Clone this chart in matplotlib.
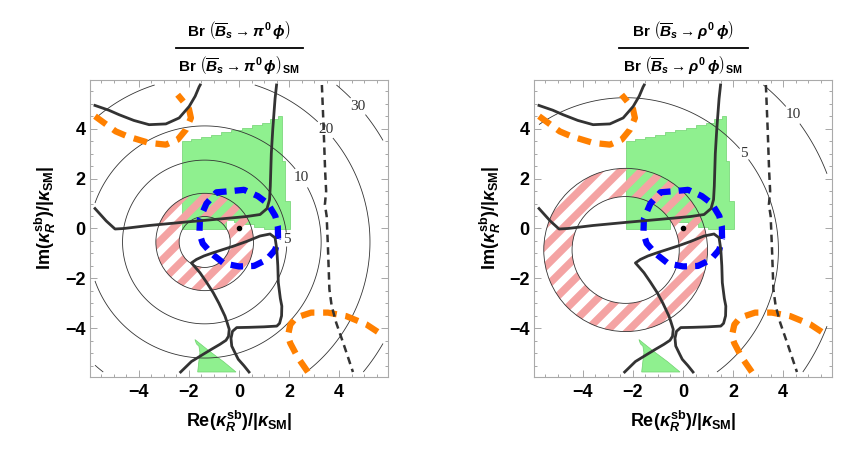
import numpy as np
import matplotlib.pyplot as plt
from matplotlib.patches import Annulus, Polygon
from matplotlib.lines import Line2D
from matplotlib.ticker import MultipleLocator

plt.rcParams['font.family'] = ['Liberation Sans', 'DejaVu Sans']
plt.rcParams['font.weight'] = 'bold'
plt.rcParams['mathtext.fontset'] = 'custom'
plt.rcParams['mathtext.rm'] = 'Liberation Sans:bold'
plt.rcParams['mathtext.it'] = 'Liberation Sans:italic:bold'
plt.rcParams['mathtext.bf'] = 'Liberation Sans:bold'

# ---- panel specific: ring (allowed region) and Br-ratio contours ----
ring_center_pi = (-1.37, -0.54)
ring_radii_pi = (1.02, 1.95)
contour_radii_pi = [3.28, 4.65, 6.6, 8.2]
contour_labels_pi = ['5', '10', '20', '30']
label_pos_pi = [(1.97, -0.44), (2.51, 2.03), (3.5, 4.0), (4.96, 5.08)]

ring_center_rho = (-2.29, -0.86)
ring_radii_rho = (2.14, 3.27)
contour_radii_rho = [6.1, 8.6]
contour_labels_rho = ['5', '10']
label_pos_rho = [(2.41, 2.96), (4.81, 4.89)]

# ---- common constraints ----
green_main = [(-2.29, -0.04), (-2.29, 3.49), (-1.9, 3.49), (-1.9, 3.58), (-1.5, 3.58),
              (-1.5, 3.67), (-1.1, 3.67), (-1.1, 3.76), (-0.7, 3.76), (-0.7, 3.85),
              (-0.3, 3.85), (-0.3, 3.95), (0.1, 3.95), (0.1, 4.04), (0.5, 4.04),
              (0.5, 4.13), (0.9, 4.13), (0.9, 4.22), (1.24, 4.22), (1.24, 4.40),
              (1.55, 4.40), (1.55, 4.49), (1.71, 4.49), (1.71, 2.7), (1.82, 2.7),
              (1.82, 1.1), (2.05, 1.1), (2.05, -0.04), (1.0, -0.04), (1.0, 0.08),
              (0.6, 0.08), (0.6, 0.17), (0.2, 0.17), (0.2, 0.26), (-0.2, 0.26),
              (-0.2, 0.33), (-0.5, 0.33), (-0.5, -0.04)]
green_low = [(-1.76, -4.45), (-1.7, -4.62), (-1.6, -4.72), (-1.56, -4.97),
             (-1.6, -5.3), (-1.65, -5.75), (-0.12, -5.75), (-0.6, -5.35),
             (-1.2, -4.9)]

curve_a_x = [-5.75, -5.2, -4.79, -4.2, -3.59, -2.92, -2.39, -1.99, -1.75, -1.59, -1.55]
curve_a_y = [4.93, 4.74, 4.56, 4.33, 4.16, 4.19, 4.43, 4.89, 5.3, 5.68, 5.75]

curve_b_x = [1.5, 1.44, 1.35, 1.29, 1.25, 1.22, 1.12, 0.84, 0.3, -0.23, -1.0,
             -2.23, -3.6, -4.6, -4.95, -5.3, -5.75]
curve_b_y = [5.75, 5.2, 4.0, 3.0, 1.7, 1.16, 0.8, 0.56, 0.48, 0.43, 0.36,
             0.25, 0.12, 0.0, -0.02, 0.3, 0.8]

curve_c_x = [-2.33, -1.9, -1.43, -1.1, -0.76, -0.52, -0.42, -0.39, -0.48, -0.56,
             -0.8, -1.03, -1.3, -1.56, -1.75, -1.9, -1.7, -1.4, -1.03, -0.23,
             0.3, 0.84, 1.24, 1.44, 1.51, 1.55, 1.57, 1.65, 1.71, 1.7, 1.62,
             1.51, 1.0, 0.4, -0.09, -0.26, -0.32, -0.29, -0.15, -0.03, 0.2, 0.4]
curve_c_y = [-5.75, -5.33, -5.04, -4.84, -4.64, -4.48, -4.32, -4.04, -3.75, -3.51,
             -3.0, -2.57, -2.15, -1.77, -1.55, -1.38, -1.24, -1.1, -0.97, -0.71,
             -0.52, -0.3, -0.22, -0.37, -0.84, -1.5, -2.17, -2.8, -3.11, -3.5, -3.8,
             -3.91, -3.94, -3.96, -3.97, -4.12, -4.4, -4.71, -5.0, -5.24, -5.5, -5.75]

dashed_x = [3.31, 3.38, 3.44, 3.48, 3.43, 3.5, 3.55, 3.61, 3.7, 3.88, 4.2, 4.55]
dashed_y = [5.75, 4.0, 2.29, 1.5, 0.96, 0.5, -0.71, -2.44, -3.1, -3.77, -4.7, -5.75]

blue_x = [1.56, 1.55, 1.45, 1.15, 0.75, 0.2, -0.3, -0.9, -1.3, -1.56, -1.58,
          -1.45, -1.1, -0.6, 0.0, 0.6, 1.1, 1.45, 1.56]
blue_y = [-0.4, 0.1, 0.5, 1.0, 1.3, 1.55, 1.5, 1.45, 1.0, 0.4, -0.2,
          -0.6, -1.0, -1.4, -1.52, -1.5, -1.25, -0.85, -0.4]

orange_a_x = [-5.75, -4.92, -4.45, -3.59, -2.92, -2.45, -2.12, -1.92, -2.0, -2.12, -2.45]
orange_a_y = [4.5, 3.89, 3.69, 3.43, 3.36, 3.56, 3.96, 4.43, 4.8, 4.96, 5.36]

orange_b_x = [2.75, 2.35, 2.05, 1.95, 2.05, 2.28, 2.88, 3.55, 4.28, 5.08, 5.55]
orange_b_y = [-5.75, -5.17, -4.6, -4.31, -3.85, -3.57, -3.37, -3.37, -3.51, -3.84, -4.15]

LIM = 5.95
DRAW = 5.75
GREEN = '#8ff08f'
PINK = '#f4a3a3'
DARK = '#333333'
STRIPE_STEP = 0.84   # horizontal stripe period of the ring hatching


def draw_panel(ax, center, ring, radii, labels, label_pos):
    # constraints
    ax.add_patch(Polygon(green_main, closed=True, facecolor=GREEN,
                         edgecolor='#6fd26f', lw=0.5, zorder=1))
    ax.add_patch(Polygon(green_low, closed=True, facecolor=GREEN,
                         edgecolor='#6fd26f', lw=0.5, zorder=1))

    # Br ratio contours
    g = np.linspace(-DRAW, DRAW, 500)
    X, Y = np.meshgrid(g, g)
    D = np.hypot(X - center[0], Y - center[1])
    cs = ax.contour(X, Y, D, levels=radii, colors=DARK, linewidths=0.6, zorder=2)
    texts = ax.clabel(cs, fmt=dict(zip(cs.levels, labels)), manual=label_pos,
                      fontsize=11, inline=True, inline_spacing=3)
    for t in texts:
        t.set_rotation(0)
        t.set_family('Liberation Serif')
        t.set_fontweight('normal')

    # hatched ring: pink diagonal stripes clipped to the annulus
    ring_patch = Annulus(center, ring[1], ring[1] - ring[0], facecolor='none',
                         edgecolor=DARK, lw=0.6, zorder=3.5)
    ax.add_patch(ring_patch)
    cx, cy = center
    span = ring[1] + 0.5
    for b in np.arange(-2 * span, 2 * span, STRIPE_STEP):
        ln, = ax.plot([cx - span, cx + span], [cy - span + b, cy + span + b],
                      color=PINK, lw=5.4, solid_capstyle='butt', zorder=3)
        ln.set_clip_path(ring_patch)

    ax.plot(blue_x, blue_y, color='#0000ff', lw=4.5, ls=(0, (2.0, 1.3)),
            dash_capstyle='butt', zorder=4)
    ax.plot(orange_a_x, orange_a_y, color='#ff8000', lw=4.5, ls=(0, (2.2, 1.4)),
            dash_capstyle='butt', zorder=4)
    ax.plot(orange_b_x, orange_b_y, color='#ff8000', lw=4.5, ls=(0, (2.2, 1.4)),
            dash_capstyle='butt', zorder=4)
    for px, py in [(curve_a_x, curve_a_y), (curve_b_x, curve_b_y), (curve_c_x, curve_c_y)]:
        ax.plot(px, py, color=DARK, lw=2.0, zorder=5)
    ax.plot(dashed_x, dashed_y, color=DARK, lw=1.8, ls=(0, (3, 2)), zorder=5)
    ax.plot([0], [0], 'o', color='k', ms=3, zorder=6)

    ax.set_xlim(-LIM, LIM)
    ax.set_ylim(-LIM, LIM)
    for a in (ax.xaxis, ax.yaxis):
        a.set_major_locator(MultipleLocator(2))
        a.set_minor_locator(MultipleLocator(0.5))
    ax.tick_params(which='both', direction='in', top=True, right=True,
                   color='#999999', width=0.6, labelsize=13)
    ax.tick_params(which='major', length=5)
    ax.tick_params(which='minor', length=2.5)
    ax.tick_params(axis='x', pad=5)
    ax.tick_params(axis='y', pad=3)
    for s in ax.spines.values():
        s.set_color('#aaaaaa')
        s.set_linewidth(0.8)


W, H = 861, 450
fig = plt.figure(figsize=(W / 100, H / 100), dpi=100)
ax1 = fig.add_axes([90 / W, 1 - 377 / H, 298 / W, 297 / H])
ax2 = fig.add_axes([534 / W, 1 - 377 / H, 298 / W, 297 / H])

draw_panel(ax1, ring_center_pi, ring_radii_pi, contour_radii_pi,
           contour_labels_pi, label_pos_pi)
draw_panel(ax2, ring_center_rho, ring_radii_rho, contour_radii_rho,
           contour_labels_rho, label_pos_rho)

xlab = r'Re($\kappa_{R}^{\mathbf{sb}}$)/|$\kappa_{\mathbf{SM}}$|'
ylab = r'Im($\kappa_{R}^{\mathbf{sb}}$)/|$\kappa_{\mathbf{SM}}$|'

titles = [(239, 176, 303, r'\pi'), (683, 619, 748, r'\rho')]
for xc, x0, x1, meson in titles:
    num = r'Br $\left(\overline{B}_{s}\rightarrow ' + meson + r'^{\mathbf{0}}\,\phi\right)$'
    den = r'Br $\left(\overline{B}_{s}\rightarrow ' + meson + r'^{\mathbf{0}}\,\phi\right)_{\mathbf{SM}}$'
    fig.text(xc / W, 1 - 36 / H, num, ha='center', va='baseline', fontsize=11)
    fig.text(xc / W, 1 - 71 / H, den, ha='center', va='baseline', fontsize=11)
    fig.add_artist(Line2D([x0 / W, x1 / W], [1 - 47.5 / H, 1 - 47.5 / H],
                          transform=fig.transFigure, color='k', lw=1.3))
    fig.text(xc / W, 1 - 421 / H, xlab, ha='center', va='center', fontsize=13)

fig.text(45 / W, 1 - 218 / H, ylab, ha='center', va='center', rotation=90, fontsize=13)
fig.text(490 / W, 1 - 218 / H, ylab, ha='center', va='center', rotation=90, fontsize=13)

fig.savefig('out.png', dpi=100)
